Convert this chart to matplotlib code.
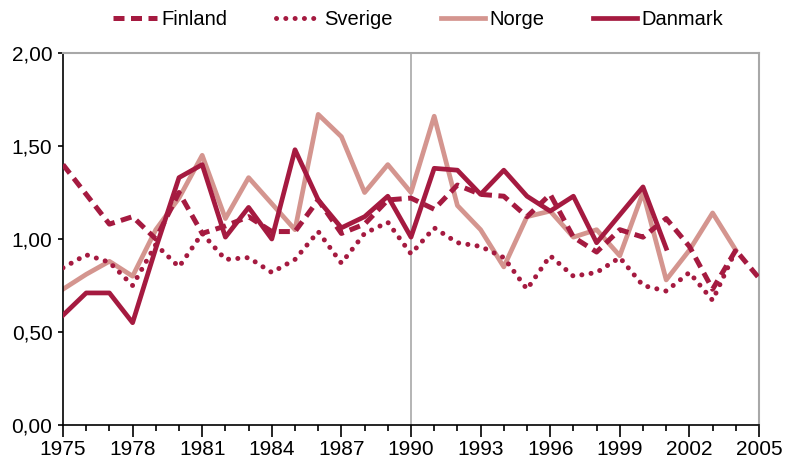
import numpy as np
import matplotlib
matplotlib.use('Agg')
import matplotlib.pyplot as plt
from matplotlib.ticker import MultipleLocator, FuncFormatter

nan = np.nan
years = np.arange(1975, 2006)

finland = [1.40, 1.24, 1.08, 1.12, 1.00, 1.25, 1.03, 1.07, 1.12, 1.04, 1.04,
           1.21, 1.03, 1.08, 1.21, 1.22, 1.16, 1.29, 1.24, 1.23, 1.12, 1.24,
           1.01, 0.93, 1.05, 1.01, 1.11, 0.96, 0.73, 0.94, 0.79]
sverige = [0.845, 0.915, 0.875, 0.75, 0.97, 0.85, 1.03, 0.89, 0.90, 0.82, 0.89,
           1.04, 0.87, 1.03, 1.09, 0.92, 1.06, 0.98, 0.96, 0.90, 0.73, 0.91,
           0.80, 0.82, 0.90, 0.75, 0.72, 0.82, 0.67, 0.94, nan]
norge = [0.73, 0.81, 0.88, 0.80, 1.05, 1.22, 1.45, 1.11, 1.33, 1.19, 1.05,
         1.67, 1.55, 1.25, 1.40, 1.25, 1.66, 1.18, 1.05, 0.85, 1.12, 1.15,
         1.01, 1.05, 0.91, 1.25, 0.78, 0.94, 1.14, 0.94, nan]
danmark = [0.59, 0.71, 0.71, 0.55, 0.95, 1.33, 1.40, 1.01, 1.17, 1.00, 1.48,
           1.21, 1.06, 1.12, 1.23, 1.01, 1.38, 1.37, 1.24, 1.37, 1.23, 1.15,
           1.23, 0.98, 1.13, 1.28, 0.95, nan, nan, nan, nan]

dark = '#A51A40'
light = '#D4958F'
grey = '#A8A8A8'

plt.rcParams['font.family'] = ['Liberation Sans', 'DejaVu Sans']

fig = plt.figure(figsize=(7.9, 4.62), dpi=100)
ax = fig.add_axes([63/790, 1 - 425/462, (759 - 63)/790, (425 - 53)/462])

ax.axvline(1990, color=grey, lw=1.2, zorder=1)

ax.plot(years, norge, color=light, lw=3.4, label='Norge', zorder=2)
ax.plot(years, finland, color=dark, lw=3.6, linestyle=(0, (2.2, 1.3)),
        dash_capstyle='butt', label='Finland', zorder=3)
ax.plot(years, sverige, color=dark, lw=3.6, linestyle=(0, (0.01, 1.85)),
        dash_capstyle='round', label='Sverige', zorder=3)
ax.plot(years, danmark, color=dark, lw=3.4, label='Danmark', zorder=4)

ax.set_xlim(1975, 2005)
ax.set_ylim(0, 2)
ax.set_xticks(np.arange(1975, 2006, 3))
ax.xaxis.set_minor_locator(MultipleLocator(1))
ax.yaxis.set_major_locator(MultipleLocator(0.5))
ax.yaxis.set_major_formatter(FuncFormatter(lambda v, p: f'{v:.2f}'.replace('.', ',')))

for s in ['top', 'right']:
    ax.spines[s].set_color(grey)
    ax.spines[s].set_linewidth(1.5)
for s in ['left', 'bottom']:
    ax.spines[s].set_color('black')
    ax.spines[s].set_linewidth(1.2)

ax.tick_params(axis='x', which='major', length=8.5, width=1.2, labelsize=15, pad=2.5)
ax.tick_params(axis='x', which='minor', length=4.3, width=1.2)
ax.tick_params(axis='y', which='major', length=3.6, width=1.2, labelsize=15, pad=4)

handles, labels = ax.get_legend_handles_labels()
order = [labels.index(n) for n in ['Finland', 'Sverige', 'Norge', 'Danmark']]
fig.legend([handles[i] for i in order], [labels[i] for i in order],
           loc='center', bbox_to_anchor=(0.529, 0.957), ncol=4, frameon=False,
           fontsize=14.5, handlelength=2.2, handletextpad=0.2, columnspacing=2.4)

fig.savefig('out.png', dpi=100)
